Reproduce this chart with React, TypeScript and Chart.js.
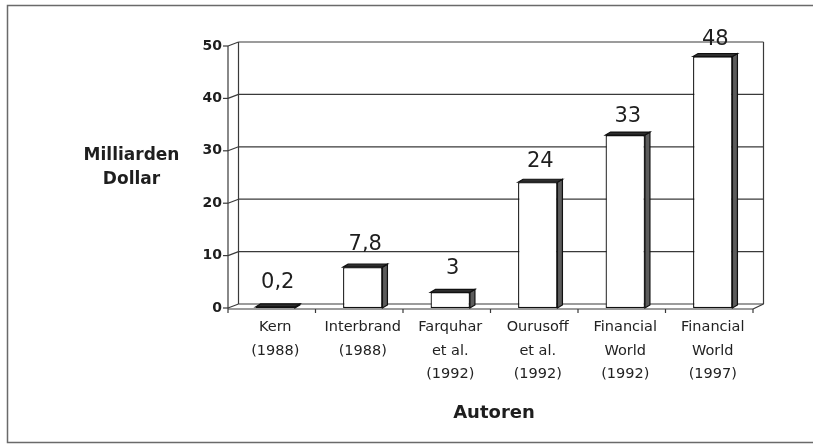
import { useEffect, useRef } from "react";
import { Chart, registerables } from "chart.js";

Chart.register(...registerables);

const categories: string[][] = [
  ["Kern", "(1988)"],
  ["Interbrand", "(1988)"],
  ["Farquhar", "et al.", "(1992)"],
  ["Ourusoff", "et al.", "(1992)"],
  ["Financial", "World", "(1992)"],
  ["Financial", "World", "(1997)"],
];
const values: number[] = [0.2, 7.8, 3, 24, 33, 48];
const valueLabels: string[] = ["0,2", "7,8", "3", "24", "33", "48"];
const yTicks: number[] = [0, 10, 20, 30, 40, 50];
const yTitle: string[] = ["Milliarden", "Dollar"];
const xTitle = "Autoren";

const FONT = "'DejaVu Sans', 'Liberation Sans', Arial, sans-serif";
const FRONT_DX = -3.5;
const BACK_DX = 7;
const BACK_DY = -4;
const BAR_DX = 5;
const BAR_DY = 3;

const frame3d = {
  id: "frame3d",
  beforeDraw(chart: any) {
    const { ctx, width, height } = chart;
    ctx.save();
    ctx.fillStyle = "#ffffff";
    ctx.fillRect(0, 0, width, height);
    ctx.strokeStyle = "#6a6a6a";
    ctx.lineWidth = 1.5;
    ctx.beginPath();
    ctx.moveTo(width, 5.5);
    ctx.lineTo(7.5, 5.5);
    ctx.lineTo(7.5, height - 1.5);
    ctx.lineTo(width, height - 1.5);
    ctx.stroke();
    ctx.restore();
  },
  beforeDatasetsDraw(chart: any) {
    const { ctx, chartArea: a, scales } = chart;
    const x = scales.x;
    const y = scales.y;
    const line = (x1: number, y1: number, x2: number, y2: number) => {
      ctx.beginPath();
      ctx.moveTo(x1, y1);
      ctx.lineTo(x2, y2);
      ctx.stroke();
    };
    ctx.save();
    ctx.strokeStyle = "#3a3a3a";
    ctx.lineWidth = 1.2;
    const fl = a.left + FRONT_DX;
    const fr = a.right + FRONT_DX;
    const bl = a.left + BACK_DX;
    const br = a.right + BACK_DX;
    const y0 = y.getPixelForValue(yTicks[0]);
    const yTop = y.getPixelForValue(yTicks[yTicks.length - 1]);
    yTicks.forEach((v) => {
      const py = y.getPixelForValue(v);
      line(fl - 5, py, fl, py);
      line(fl, py, bl, py + BACK_DY);
      line(bl, py + BACK_DY, br, py + BACK_DY);
    });
    line(fl, y0 + 1, fl, yTop);
    line(bl, y0 + BACK_DY, bl, yTop + BACK_DY);
    line(br, y0 + BACK_DY, br, yTop + BACK_DY);
    line(fl, y0 + 1, fr, y0 + 1);
    line(fr, y0 + 1, br, y0 + BACK_DY);
    const w = x.getPixelForValue(1) - x.getPixelForValue(0);
    for (let i = 0; i <= categories.length; i++) {
      const px = x.getPixelForValue(0) - w / 2 + i * w + FRONT_DX;
      line(px, y0 + 1, px, y0 + 5);
    }
    ctx.restore();
  },
  afterDatasetsDraw(chart: any) {
    const { ctx, chartArea: a } = chart;
    const meta = chart.getDatasetMeta(0);
    ctx.save();
    ctx.strokeStyle = "#111111";
    ctx.lineWidth = 1.2;
    ctx.lineJoin = "miter";
    meta.data.forEach((bar: any, i: number) => {
      const { x, y, base, width } = bar.getProps(["x", "y", "base", "width"], true);
      const l = x - width / 2;
      const r = x + width / 2;
      // side face
      ctx.fillStyle = "#5c5c5c";
      ctx.beginPath();
      ctx.moveTo(r, y);
      ctx.lineTo(r + BAR_DX, y - BAR_DY);
      ctx.lineTo(r + BAR_DX, base - BAR_DY);
      ctx.lineTo(r, base);
      ctx.closePath();
      ctx.fill();
      ctx.stroke();
      // top face
      ctx.fillStyle = "#2e2e2e";
      ctx.beginPath();
      ctx.moveTo(l, y);
      ctx.lineTo(l + BAR_DX, y - BAR_DY);
      ctx.lineTo(r + BAR_DX, y - BAR_DY);
      ctx.lineTo(r, y);
      ctx.closePath();
      ctx.fill();
      ctx.stroke();
      // value label
      const h = base - y;
      const off = 24 - 0.03 * h;
      ctx.fillStyle = "#1e1e1e";
      ctx.font = `21px ${FONT}`;
      ctx.textAlign = "center";
      ctx.textBaseline = "middle";
      ctx.fillText(valueLabels[i], x + BAR_DX / 2, y - off);
    });
    // axis titles
    ctx.fillStyle = "#1e1e1e";
    ctx.textAlign = "center";
    ctx.textBaseline = "middle";
    ctx.font = `bold 17px ${FONT}`;
    const cy = (a.top + a.bottom) / 2 - 9;
    ctx.fillText(yTitle[0], a.left - 100, cy - 12);
    ctx.fillText(yTitle[1], a.left - 100, cy + 12);
    ctx.font = `bold 18px ${FONT}`;
    ctx.fillText(xTitle, (a.left + a.right) / 2, a.bottom + 105);
    ctx.restore();
  },
};

export default function App() {
  const ref = useRef<HTMLCanvasElement | null>(null);

  useEffect(() => {
    if (!ref.current) return;
    const chart = new Chart(ref.current, {
      type: "bar",
      data: {
        labels: categories,
        datasets: [
          {
            data: values,
            backgroundColor: "#ffffff",
            borderColor: "#111111",
            borderWidth: 1.3,
            borderSkipped: false,
            categoryPercentage: 1,
            barPercentage: 0.45,
          },
        ],
      },
      options: {
        responsive: false,
        animation: false,
        events: [],
        layout: { padding: { left: 171.5, right: 56.5, top: 46, bottom: 0 } },
        plugins: { legend: { display: false }, tooltip: { enabled: false } },
        scales: {
          x: {
            grid: { display: false, drawTicks: false },
            border: { display: false },
            afterFit: (s: any) => {
              s.height = 136;
            },
            ticks: {
              autoSkip: false,
              maxRotation: 0,
              minRotation: 0,
              padding: 8,
              color: "#222222",
              font: { family: FONT, size: 14.5, lineHeight: 1.6 },
            },
          },
          y: {
            min: 0,
            max: 50,
            grid: { display: false, drawTicks: false },
            border: { display: false },
            afterFit: (s: any) => {
              s.width = 60;
            },
            ticks: {
              stepSize: 10,
              padding: 9.5,
              color: "#1e1e1e",
              font: { family: FONT, size: 14, weight: "bold" },
            },
          },
        },
      },
      plugins: [frame3d],
    });
    return () => chart.destroy();
  }, []);

  return (
    <div style={{ position: "fixed", left: 0, top: 0, width: 813, height: 444, background: "#fff" }}>
      <canvas ref={ref} width={813} height={444} style={{ display: "block" }} />
    </div>
  );
}
